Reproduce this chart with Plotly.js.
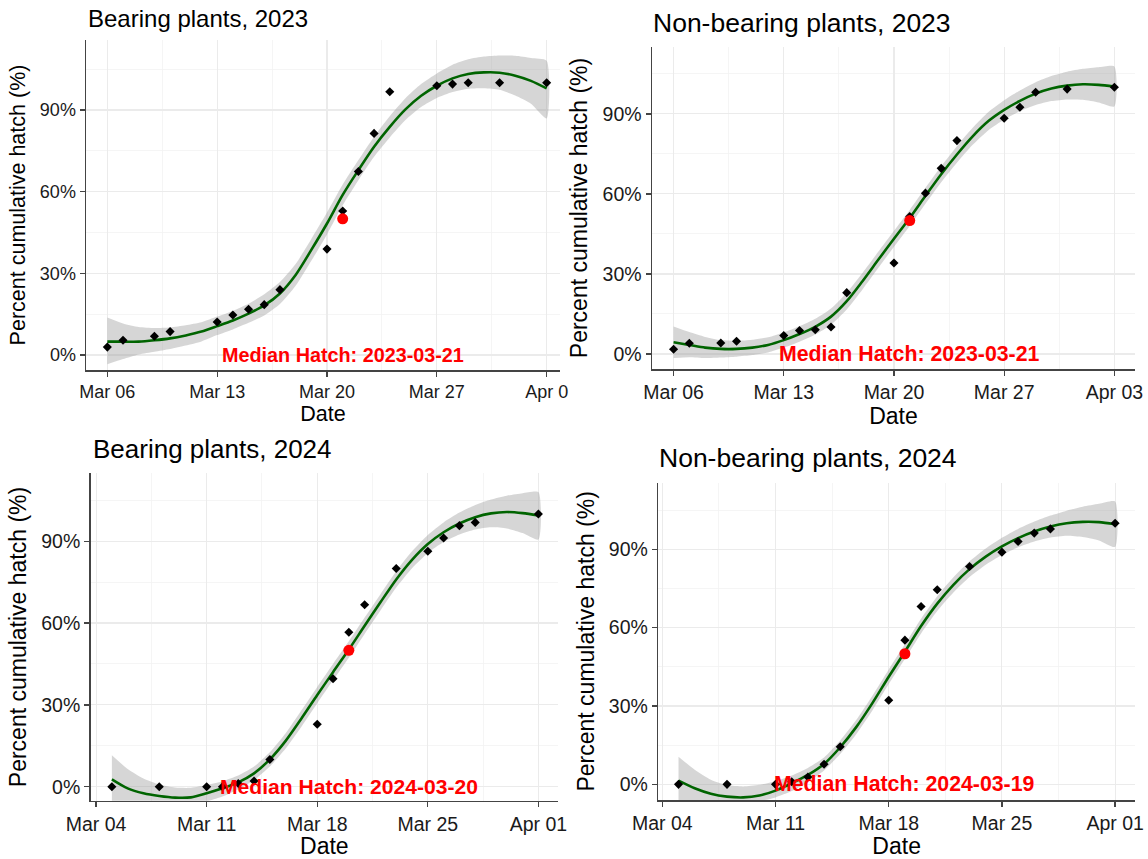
<!DOCTYPE html>
<html><head><meta charset="utf-8">
<script src="https://cdn.plot.ly/plotly-3.0.1.min.js"></script>
<style>html,body{margin:0;padding:0;background:#fff}#chart{width:1148px;height:859px}</style>
</head><body><div id="chart"></div>
<script>
// ---------- DATA ----------
const panelTitles = ["Bearing plants, 2023", "Non-bearing plants, 2023", "Bearing plants, 2024", "Non-bearing plants, 2024"];
const medianDates = ["2023-03-21", "2023-03-21", "2024-03-20", "2024-03-19"];
const medianValue = 50;

// tick labels
const ticks2023 = ["2023-03-06", "2023-03-13", "2023-03-20", "2023-03-27", "2023-04-03"];
const tickText2023a = ["Mar 06", "Mar 13", "Mar 20", "Mar 27", "Apr 0"];
const tickText2023b = ["Mar 06", "Mar 13", "Mar 20", "Mar 27", "Apr 03"];
const ticks2024 = ["2024-03-04", "2024-03-11", "2024-03-18", "2024-03-25", "2024-04-01"];
const tickText2024 = ["Mar 04", "Mar 11", "Mar 18", "Mar 25", "Apr 01"];

// observed points
const obsDates2023 = ["2023-03-06","2023-03-07","2023-03-09","2023-03-10","2023-03-13","2023-03-14","2023-03-15","2023-03-16","2023-03-17","2023-03-20","2023-03-21","2023-03-22","2023-03-23","2023-03-24","2023-03-27","2023-03-28","2023-03-29","2023-03-31","2023-04-03"];
const bear2023 = [2.9, 5.4, 6.9, 8.6, 12.1, 14.7, 16.8, 18.5, 24.0, 38.9, 52.9, 67.4, 81.4, 96.7, 98.9, 99.5, 100, 100, 100];
const nonbear2023 = [1.8, 4.0, 4.1, 4.8, 6.9, 8.8, 9.1, 10.1, 23.0, 34.1, 51.5, 60.3, 69.6, 80.0, 88.4, 92.5, 98.1, 99.3, 100];
const obsDates2024 = ["2024-03-05","2024-03-08","2024-03-11","2024-03-12","2024-03-13","2024-03-14","2024-03-15","2024-03-18","2024-03-19","2024-03-20","2024-03-21","2024-03-23","2024-03-25","2024-03-26","2024-03-27","2024-03-28","2024-04-01"];
const bear2024 = [0, 0, 0, 0, 1.2, 2.1, 10.0, 22.9, 39.6, 56.6, 66.7, 80.0, 86.3, 91.2, 95.7, 96.9, 100];
const nonbear2024 = [0, 0, 0, 1.0, 2.8, 7.7, 14.4, 32.2, 55.2, 68.1, 74.5, 83.4, 88.9, 93.0, 96.2, 97.8, 100];

// smoothed fit (daily grid) with confidence band
const fitStart2023 = "2023-03-06";   // Mar 06 .. Apr 03
const fitBear2023 = [4.9, 4.9, 4.9, 5.4, 6.1, 7.2, 8.6, 10.6, 12.7, 15.2, 18.2, 22.6, 29.4, 38.6, 48.3, 58.8, 67.9, 76.5, 83.8, 90.2, 95.2, 98.9, 101.6, 103.2, 103.8, 103.7, 102.6, 100.7, 97.9];
const upBear2023  = [13.8, 11.6, 10.3, 9.9, 10.1, 10.9, 12.0, 14.1, 16.2, 18.8, 22.3, 26.8, 33.4, 42.6, 52.3, 62.6, 71.6, 80.2, 87.7, 94.3, 99.5, 103.4, 106.6, 108.6, 109.6, 110.0, 109.9, 109.1, 108.1];
const loBear2023  = [-3.4, -1.5, 0.2, 1.2, 2.2, 3.5, 5.0, 7.3, 9.4, 11.8, 14.5, 18.7, 25.4, 34.6, 44.3, 55.0, 64.2, 72.8, 79.9, 86.3, 91.1, 94.4, 96.6, 97.8, 98.0, 97.4, 95.3, 92.3, 86.9];
const fitNon2023 = [4.4, 3.4, 2.4, 1.9, 1.9, 2.4, 3.4, 5.2, 7.5, 10.2, 14.0, 19.8, 27.3, 35.3, 43.2, 51.0, 59.3, 67.4, 74.8, 81.6, 87.3, 91.5, 94.9, 97.6, 99.5, 100.6, 101.1, 100.9, 100.3];
const upNon2023  = [10.3, 8.2, 6.4, 5.2, 4.9, 5.3, 6.3, 8.1, 10.4, 13.2, 17.1, 23.0, 30.4, 38.3, 46.2, 54.0, 62.3, 70.4, 77.9, 84.8, 90.7, 95.1, 98.8, 101.9, 104.2, 105.8, 106.9, 107.5, 107.8];
const loNon2023  = [-1.5, -1.2, -1.5, -1.3, -1.0, -0.4, 0.6, 2.4, 4.6, 7.3, 11.0, 16.7, 24.2, 32.2, 40.2, 48.0, 56.3, 64.4, 71.7, 78.4, 83.9, 87.9, 91.0, 93.3, 94.8, 95.4, 95.3, 94.3, 92.8];
const fitStart2024 = "2024-03-05";   // Mar 05 .. Apr 01
const fitBear2024 = [2.7, -0.6, -2.4, -3.4, -4.0, -3.9, -2.4, -0.6, 1.6, 4.9, 10.0, 16.8, 25.0, 33.6, 42.0, 50.3, 59.0, 67.6, 76.0, 83.2, 89.0, 93.3, 96.5, 98.8, 100.2, 100.7, 100.3, 99.4];
const upBear2024  = [11.5, 6.5, 3.0, 0.8, -0.3, -0.4, 0.6, 2.0, 4.1, 7.4, 12.6, 19.6, 28.0, 36.6, 45.0, 53.3, 62.0, 70.6, 79.0, 86.3, 92.3, 96.9, 100.5, 103.3, 105.3, 106.7, 107.6, 108.0];
const loBear2024  = [-6.5, -6.5, -6.5, -6.5, -6.5, -6.5, -5.4, -3.6, -0.9, 2.4, 7.4, 14.0, 22.0, 30.6, 39.0, 47.3, 56.0, 64.6, 73.0, 80.1, 85.7, 89.7, 92.5, 94.3, 95.1, 94.7, 93.0, 90.6];
const fitNon2024 = [1.4, -1.5, -3.6, -4.7, -5.0, -4.3, -2.4, 0.4, 3.6, 7.8, 14.2, 22.0, 31.2, 41.2, 50.8, 60.6, 69.2, 76.4, 82.4, 87.2, 91.1, 94.3, 96.8, 98.7, 100.0, 100.5, 100.4, 99.6];
const upNon2024  = [10.6, 5.6, 1.8, -0.3, -0.8, -0.2, 1.2, 3.4, 6.3, 10.3, 16.8, 24.7, 34.0, 44.0, 53.6, 63.4, 72.0, 79.3, 85.4, 90.3, 94.4, 97.8, 100.6, 102.9, 104.8, 106.3, 107.4, 108.3];
const loNon2024  = [-6.5, -6.5, -6.5, -6.5, -6.5, -6.4, -5.0, -2.6, 0.9, 5.3, 11.6, 19.3, 28.4, 38.4, 48.0, 57.8, 66.4, 73.5, 79.4, 84.1, 87.8, 90.8, 93.0, 94.5, 95.2, 94.7, 93.4, 90.9];

// ---------- BUILD ----------
const DAY = 864e5;
const ms = s => new Date(s + "T00:00:00Z").getTime();
const iso = t => new Date(t).toISOString().slice(0, 10);
const grid = (start, n) => { const a = []; for (let i = 0; i < n; i++) a.push(iso(ms(start) + i * DAY)); return a; };

const W = 1148, H = 859;
const panels = [
  {obsX: obsDates2023, obsY: bear2023, fitStart: fitStart2023, fit: fitBear2023, up: upBear2023, lo: loBear2023,
   px: [86, 560], py: [40, 370], xr: ["2023-03-06", -1.36, 28.85], yr: [-5.51, 115.7],
   tv: ticks2023, tt: tickText2023a, titleY: 18.3, titleX: 86, tfs: 24, fs: 18, afs: 21.5, mfs: 19.8},
  {obsX: obsDates2023, obsY: nonbear2023, fitStart: fitStart2023, fit: fitNon2023, up: upNon2023, lo: loNon2023,
   px: [652, 1135], py: [46.7, 369.3], xr: ["2023-03-06", -1.37, 29.31], yr: [-5.74, 115.2],
   tv: ticks2023, tt: tickText2023b, titleY: 23.3, titleX: 651, tfs: 26.5, fs: 19.5, afs: 23, mfs: 21.3},
  {obsX: obsDates2024, obsY: bear2024, fitStart: fitStart2024, fit: fitBear2024, up: upBear2024, lo: loBear2024,
   px: [90.7, 558], py: [473.3, 800.7], xr: ["2024-03-04", -0.34, 29.24], yr: [-5.13, 114.9],
   tv: ticks2024, tt: tickText2024, titleY: 448.7, titleX: 90.7, tfs: 26, fs: 19.5, afs: 23, mfs: 21.1},
  {obsX: obsDates2024, obsY: nonbear2024, fitStart: fitStart2024, fit: fitNon2024, up: upNon2024, lo: loNon2024,
   px: [658.3, 1135], py: [482.7, 800], xr: ["2024-03-04", -0.25, 29.23], yr: [-6.0, 115.5],
   tv: ticks2024, tt: tickText2024, titleY: 458, titleX: 657, tfs: 26.5, fs: 19.5, afs: 23, mfs: 21.3}
];

const FONT = "Liberation Sans, Arial, sans-serif";
const traces = [];
const layout = {
  width: W, height: H, margin: {l: 0, r: 0, t: 0, b: 0},
  paper_bgcolor: "#ffffff", plot_bgcolor: "#ffffff",
  showlegend: false, font: {family: FONT, color: "#1a1a1a"},
  annotations: []
};

panels.forEach((p, i) => {
  const k = i === 0 ? "" : String(i + 1);
  const xa = "x" + k, ya = "y" + k;
  const fx = grid(p.fitStart, p.fit.length);
  const bandX = fx.concat(fx.slice().reverse());
  const bandY = p.up.concat(p.lo.slice().reverse());
  traces.push({x: bandX, y: bandY, xaxis: xa, yaxis: ya, type: "scatter", mode: "lines",
    fill: "toself", fillcolor: "rgba(153,153,153,0.4)", line: {width: 0, shape: "spline", smoothing: 0.6}, hoverinfo: "skip"});
  traces.push({x: fx, y: p.fit, xaxis: xa, yaxis: ya, type: "scatter", mode: "lines",
    line: {color: "#006400", width: 2.6, shape: "spline", smoothing: 0.8}});
  traces.push({x: p.obsX, y: p.obsY, xaxis: xa, yaxis: ya, type: "scatter", mode: "markers",
    marker: {symbol: "diamond", size: 7, color: "#000000"}});
  const medIdx = 0;
  traces.push({x: [medianDates[i]], y: [medianValue], xaxis: xa, yaxis: ya, type: "scatter", mode: "markers",
    marker: {symbol: "circle", size: 11, color: "#FF0000"}});

  const x0 = ms(p.xr[0]);
  layout["xaxis" + k] = {
    type: "date", anchor: ya, domain: [p.px[0] / W, p.px[1] / W],
    range: [x0 + p.xr[1] * DAY, x0 + p.xr[2] * DAY],
    tickmode: "array", tickvals: p.tv, ticktext: p.tt,
    ticks: "outside", ticklen: 5, tickwidth: 1.3, tickcolor: "#444",
    showline: true, linecolor: "#444", linewidth: 1.5,
    showgrid: true, gridcolor: "#EBEBEB", gridwidth: 1.1, zeroline: false,
    minor: {tickmode: "linear", tick0: p.tv[0], dtick: 3.5 * DAY, showgrid: true, gridcolor: "#F3F3F3", gridwidth: 0.8, ticks: ""},
    tickfont: {family: FONT, size: p.fs, color: "#1a1a1a"},
    title: {text: "Date", font: {family: FONT, size: p.afs, color: "#000"}, standoff: 4},
    automargin: false, fixedrange: true
  };
  layout["yaxis" + k] = {
    anchor: xa, domain: [1 - p.py[1] / H, 1 - p.py[0] / H], range: p.yr,
    tickmode: "linear", tick0: 0, dtick: 30, ticksuffix: "%",
    ticks: "outside", ticklen: 5, tickwidth: 1.3, tickcolor: "#444",
    showline: true, linecolor: "#444", linewidth: 1.5,
    showgrid: true, gridcolor: "#EBEBEB", gridwidth: 1.1, zeroline: false,
    minor: {tickmode: "linear", tick0: 15, dtick: 30, showgrid: true, gridcolor: "#F3F3F3", gridwidth: 0.8, ticks: ""},
    tickfont: {family: FONT, size: p.fs, color: "#1a1a1a"},
    title: {text: "Percent cumulative hatch (%)", font: {family: FONT, size: p.afs, color: "#000"}, standoff: 8},
    automargin: false, fixedrange: true
  };
  layout.annotations.push({
    xref: "paper", yref: "paper", x: p.titleX / W, y: 1 - p.titleY / H,
    xanchor: "left", yanchor: "middle", showarrow: false,
    text: panelTitles[i], font: {family: FONT, size: p.tfs, color: "#000"}
  });
  layout.annotations.push({
    xref: xa, yref: ya, x: medianDates[i], y: 0, xanchor: "center", yanchor: "middle", showarrow: false,
    text: "<b>Median Hatch: " + medianDates[i] + "</b>", font: {family: FONT, size: p.mfs, color: "#FF0000"}
  });
});

Plotly.newPlot("chart", traces, layout, {staticPlot: true, displayModeBar: false});
</script>
</body></html>
